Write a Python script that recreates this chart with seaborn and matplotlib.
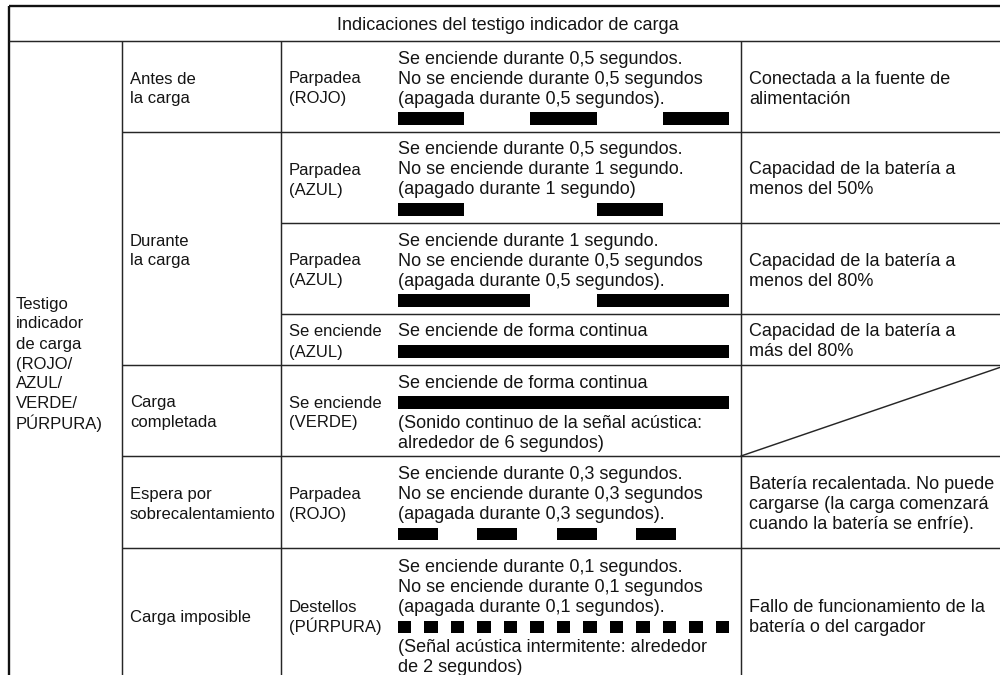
import matplotlib
matplotlib.use("Agg")
import matplotlib.pyplot as plt
import seaborn as sns

sns.set_theme(style="white")
plt.rcParams['font.family'] = ['Liberation Sans', 'DejaVu Sans']

# ---------------- data ----------------
header = "Indicaciones del testigo indicador de carga"
col0_lines = ["Testigo", "indicador", "de carga", "(ROJO/", "AZUL/", "VERDE/", "PÚRPURA)"]

# column 1 groups: (first row, last row, lines)
stage_groups = [
    (0, 0, ["Antes de", "la carga"]),
    (1, 3, ["Durante", "la carga"]),
    (4, 4, ["Carga", "completada"]),
    (5, 5, ["Espera por", "sobrecalentamiento"]),
    (6, 6, ["Carga imposible"]),
]
indicator = [
    ["Parpadea", "(ROJO)"],
    ["Parpadea", "(AZUL)"],
    ["Parpadea", "(AZUL)"],
    ["Se enciende", "(AZUL)"],
    ["Se enciende", "(VERDE)"],
    ["Parpadea", "(ROJO)"],
    ["Destellos", "(PÚRPURA)"],
]
BAR = None
description = [
    ["Se enciende durante 0,5 segundos.", "No se enciende durante 0,5 segundos",
     "(apagada durante 0,5 segundos).", BAR],
    ["Se enciende durante 0,5 segundos.", "No se enciende durante 1 segundo.",
     "(apagado durante 1 segundo)", BAR],
    ["Se enciende durante 1 segundo.", "No se enciende durante 0,5 segundos",
     "(apagada durante 0,5 segundos).", BAR],
    ["Se enciende de forma continua", BAR],
    ["Se enciende de forma continua", BAR, "(Sonido continuo de la señal acústica:",
     "alrededor de 6 segundos)"],
    ["Se enciende durante 0,3 segundos.", "No se enciende durante 0,3 segundos",
     "(apagada durante 0,3 segundos).", BAR],
    ["Se enciende durante 0,1 segundos.", "No se enciende durante 0,1 segundos",
     "(apagada durante 0,1 segundos).", BAR, "(Señal acústica intermitente: alrededor",
     "de 2 segundos)"],
]
# light pattern (seconds): on time, off time; window shown = 2.5 s
on_seconds = [0.5, 0.5, 1.0, 2.5, 2.5, 0.3, 0.1]
off_seconds = [0.5, 1.0, 0.5, 0.0, 0.0, 0.3, 0.1]
window_seconds = 2.5

meaning = [
    ["Conectada a la fuente de", "alimentación"],
    ["Capacidad de la batería a", "menos del 50%"],
    ["Capacidad de la batería a", "menos del 80%"],
    ["Capacidad de la batería a", "más del 80%"],
    None,
    ["Batería recalentada. No puede", "cargarse (la carga comenzará",
     "cuando la batería se enfríe)."],
    ["Fallo de funcionamiento de la", "batería o del cargador"],
]

# ---------------- layout (pixels) ----------------
W, H = 1000, 675
TOP = 6
HEADER_BOTTOM = 41
row_edges = [41, 132, 223, 314, 365, 456, 548, 682]
X_LEFT, X_C1, X_C2, X_C4, X_RIGHT = 9, 122, 281, 741, 1007
TX0, TX1, TX2, TX3, TX4 = 16, 130, 289, 398, 749
BAR_X1 = 729
LINE_H = 20
BASE_OFF = 7
FS_SMALL = 12.0
FS_LARGE = 13.0
TXT_COLOR = "#141414"
LINE_COLOR = "#262626"

fig = plt.figure(figsize=(W / 100, H / 100), dpi=100)
ax = fig.add_axes([0, 0, 1, 1])
ax.set_xlim(0, W)
ax.set_ylim(H, 0)
ax.axis("off")


def baselines(y0, y1, n):
    c = (y0 + y1) / 2
    return [c + BASE_OFF + LINE_H * (i - (n - 1) / 2) for i in range(n)]


def put_lines(x, y0, y1, lines, fs):
    for b, t in zip(baselines(y0, y1, len(lines)), lines):
        ax.text(x, b, t, fontsize=fs, color=TXT_COLOR, ha="left", va="baseline")


# grid lines
lw_in = 1.05
lw_out = 1.7
ax.hlines(TOP, X_LEFT, X_RIGHT, color="#111111", lw=lw_out)
ax.vlines(X_LEFT, TOP, H + 10, color="#111111", lw=lw_out)
ax.hlines(HEADER_BOTTOM, X_LEFT, X_RIGHT, color=LINE_COLOR, lw=lw_in)
line_starts = [X_C1, X_C2, X_C2, X_C1, X_C1, X_C1]
for y, xs in zip(row_edges[1:-1], line_starts):
    ax.hlines(y, xs, X_RIGHT, color=LINE_COLOR, lw=lw_in)
for x in (X_C1, X_C2, X_C4):
    ax.vlines(x, HEADER_BOTTOM, H + 10, color=LINE_COLOR, lw=lw_in)
# diagonal in empty cell
ax.plot([X_C4, X_RIGHT], [row_edges[5], row_edges[4]], color=LINE_COLOR, lw=lw_in)

# header
ax.text((X_LEFT + X_RIGHT) / 2, (TOP + HEADER_BOTTOM) / 2 + BASE_OFF, header,
        fontsize=FS_LARGE, color=TXT_COLOR, ha="center", va="baseline")

# column 0
put_lines(TX0, row_edges[0], row_edges[-1], col0_lines, FS_SMALL)

# column 1
for r0, r1, lines in stage_groups:
    put_lines(TX1, row_edges[r0], row_edges[r1 + 1], lines, FS_SMALL)

# columns 2 and 4, descriptions with bars
for r in range(7):
    y0, y1 = row_edges[r], row_edges[r + 1]
    put_lines(TX2, y0, y1, indicator[r], FS_SMALL)
    if meaning[r] is not None:
        put_lines(TX4, y0, y1, meaning[r], FS_LARGE)
    items = description[r]
    for b, it in zip(baselines(y0, y1, len(items)), items):
        if it is None:
            bar_top, bar_bot = b - 11.5, b + 1.0
            bax = fig.add_axes([TX3 / W, 1 - bar_bot / H, (BAR_X1 - TX3) / W,
                                (bar_bot - bar_top) / H])
            bax.set_xlim(0, window_seconds)
            bax.set_ylim(0, 1)
            bax.axis("off")
            segs = []
            t = 0.0
            period = on_seconds[r] + off_seconds[r]
            while t + on_seconds[r] <= window_seconds + 1e-9:
                segs.append((t, on_seconds[r]))
                t += period
            bax.broken_barh(segs, (0, 1), facecolors="black", edgecolor="none")
        else:
            ax.text(TX3, b, it, fontsize=FS_LARGE, color=TXT_COLOR, ha="left",
                    va="baseline")

fig.savefig("out.png", dpi=100)
